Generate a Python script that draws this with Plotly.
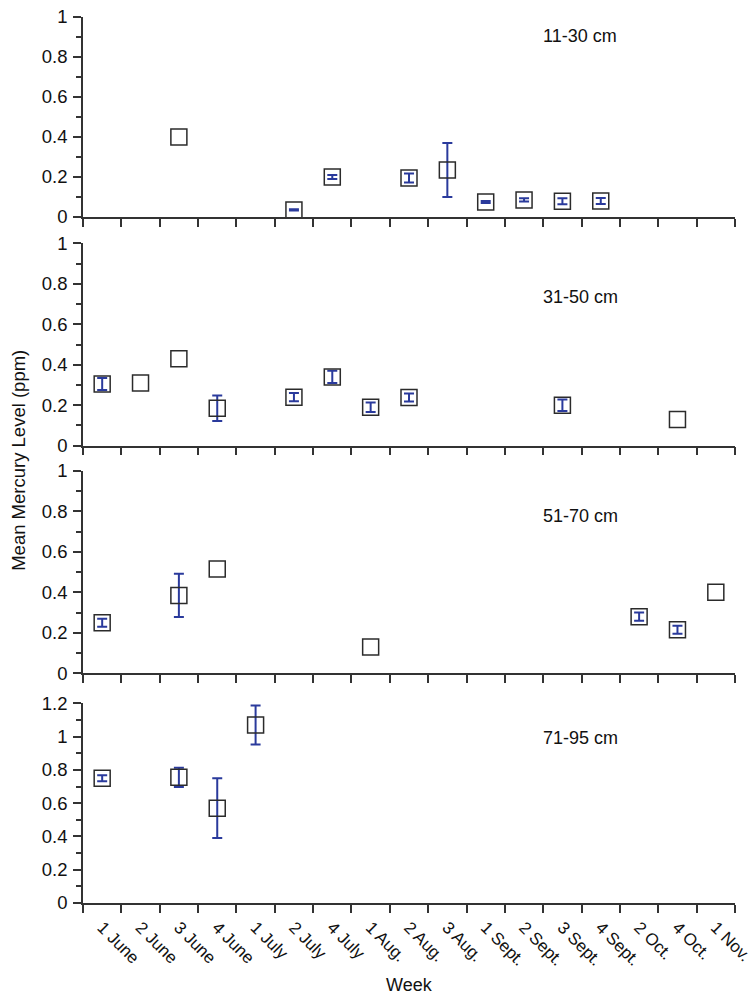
import plotly.graph_objects as go

WEEKS = ["1 June", "2 June", "3 June", "4 June", "1 July", "2 July", "4 July",
         "1 Aug.", "2 Aug.", "3 Aug.", "1 Sept.", "2 Sept.", "3 Sept.", "4 Sept.",
         "2 Oct.", "4 Oct.", "1 Nov."]

# 11-30 cm
P1_WEEKS = ["3 June", "2 July", "4 July", "2 Aug.", "3 Aug.", "1 Sept.", "2 Sept.", "3 Sept.", "4 Sept."]
P1_MEAN = [0.40, 0.035, 0.20, 0.195, 0.235, 0.075, 0.085, 0.078, 0.08]
P1_ERR = [None, 0.003, 0.01, 0.022, 0.135, 0.005, 0.008, 0.015, 0.015]

# 31-50 cm
P2_WEEKS = ["1 June", "2 June", "3 June", "4 June", "2 July", "4 July", "1 Aug.", "2 Aug.", "3 Sept.", "4 Oct."]
P2_MEAN = [0.305, 0.31, 0.43, 0.185, 0.24, 0.34, 0.19, 0.238, 0.20, 0.13]
P2_ERR = [0.03, None, None, 0.063, 0.02, 0.03, 0.023, 0.02, 0.028, None]

# 51-70 cm
P3_WEEKS = ["1 June", "3 June", "4 June", "1 Aug.", "2 Oct.", "4 Oct.", "1 Nov."]
P3_MEAN = [0.25, 0.385, 0.515, 0.13, 0.28, 0.215, 0.40]
P3_ERR = [0.02, 0.107, None, None, 0.021, 0.02, None]

# 71-95 cm
P4_WEEKS = ["1 June", "3 June", "4 June", "1 July"]
P4_MEAN = [0.75, 0.755, 0.57, 1.07]
P4_ERR = [0.018, 0.058, 0.18, 0.117]

PANEL_LABELS = ["11-30 cm", "31-50 cm", "51-70 cm", "71-95 cm"]

FONT = "Arial, Liberation Sans, sans-serif"
AXIS_COLOUR = "#333333"
MARKER_COLOUR = "#2b2b2b"
ERR_COLOUR = "#2a3a9c"

panels = [
    (P1_WEEKS, P1_MEAN, P1_ERR),
    (P2_WEEKS, P2_MEAN, P2_ERR),
    (P3_WEEKS, P3_MEAN, P3_ERR),
    (P4_WEEKS, P4_MEAN, P4_ERR),
]
domains = [[0.7743, 1.0], [0.5161, 0.7446], [0.2593, 0.4876], [0.0, 0.2254]]
yranges = [[0, 1], [0, 1], [0, 1], [0, 1.2]]
label_y = [0.905, 0.736, 0.779, 0.828]

fig = go.Figure()
layout = dict(
    width=754, height=1003,
    margin=dict(l=83, r=19, t=17, b=100),
    plot_bgcolor="white", paper_bgcolor="white",
    showlegend=False,
    font=dict(family=FONT, size=18, color="#111111"),
    annotations=[],
)

for i, (wk, mean, err) in enumerate(panels):
    n = i + 1
    sfx = "" if n == 1 else str(n)
    # error bars only where a value exists
    ex = [w for w, e in zip(wk, err) if e is not None]
    ey = [m for m, e in zip(mean, err) if e is not None]
    ee = [e for e in err if e is not None]
    fig.add_trace(go.Scatter(
        x=ex, y=ey, mode="markers",
        xaxis="x" + sfx, yaxis="y" + sfx,
        marker=dict(size=1, color="rgba(0,0,0,0)"),
        error_y=dict(type="data", array=ee, visible=True, color=ERR_COLOUR,
                     thickness=2, width=5),
        cliponaxis=False, hoverinfo="skip",
    ))
    fig.add_trace(go.Scatter(
        x=wk, y=mean, mode="markers",
        xaxis="x" + sfx, yaxis="y" + sfx,
        marker=dict(symbol="square-open", size=16, color=MARKER_COLOUR,
                    line=dict(width=1.5)),
        cliponaxis=False,
    ))
    bottom = n == 4
    layout["xaxis" + sfx] = dict(
        type="category", categoryorder="array", categoryarray=WEEKS,
        range=[-0.5, 16.5], anchor="y" + sfx, automargin=False,
        tickson="boundaries", ticks="outside", ticklen=8, tickwidth=1.5,
        tickcolor=AXIS_COLOUR, showline=True, linecolor=AXIS_COLOUR, linewidth=1.5,
        showgrid=False, zeroline=False, fixedrange=True,
        showticklabels=bottom, tickangle=45, ticklabelstandoff=6,
        tickfont=dict(size=17, family=FONT, color="#111111"),
        **({} if bottom else {"matches": "x4"}),
    )
    layout["yaxis" + sfx] = dict(
        domain=domains[i], range=yranges[i], anchor="x" + sfx, automargin=False,
        dtick=0.2, tick0=0, ticks="outside", ticklen=8, tickwidth=1.5,
        tickcolor=AXIS_COLOUR, showline=True, linecolor=AXIS_COLOUR, linewidth=1.5,
        showgrid=False, zeroline=False, ticklabelstandoff=2,
        tickfont=dict(size=18.5, family=FONT, color="#111111"),
        minor=dict(dtick=0.1, ticks="outside", ticklen=5, tickwidth=1.5,
                   tickcolor=AXIS_COLOUR, showgrid=False),
    )
    layout["annotations"].append(dict(
        text=PANEL_LABELS[i], xref="paper", yref="y" + sfx + " domain",
        x=0.763, y=label_y[i], xanchor="center", yanchor="middle",
        showarrow=False, font=dict(size=18, family=FONT, color="#111111"),
    ))

layout["annotations"].append(dict(
    text="Mean Mercury Level (ppm)", xref="paper", yref="paper",
    x=-0.1, y=0.5, textangle=-90, showarrow=False,
    xanchor="center", yanchor="middle",
    font=dict(size=18.5, family=FONT, color="#111111"),
))
layout["annotations"].append(dict(
    text="Week", xref="paper", yref="paper",
    x=0.5, y=-0.092, showarrow=False, xanchor="center", yanchor="middle",
    font=dict(size=18, family=FONT, color="#111111"),
))

fig.update_layout(**layout)
fig.write_html("out.html", config={"displayModeBar": False},
               post_script="document.body.style.margin='0';")
